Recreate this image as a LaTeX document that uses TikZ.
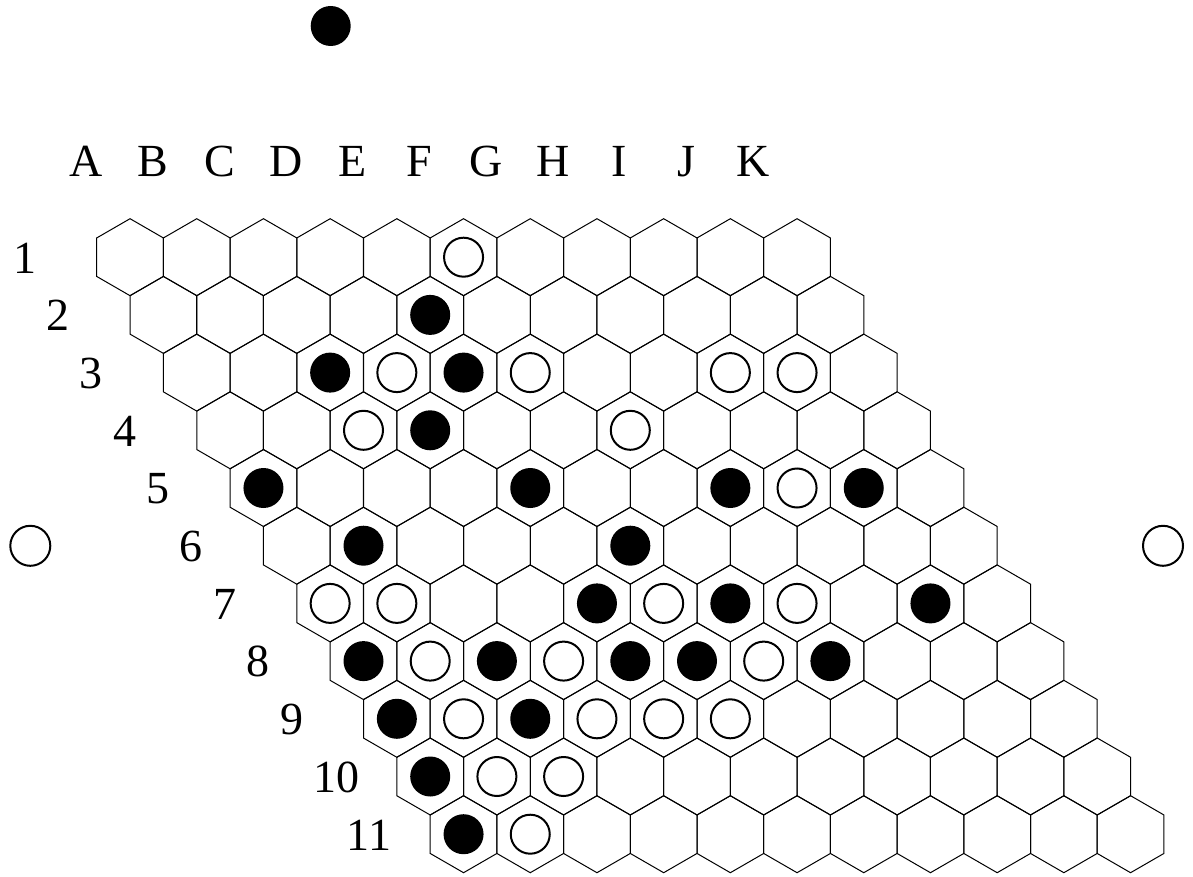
\documentclass[tikz,border=0pt]{standalone}
\usepackage{fontspec}
\setmainfont{Liberation Serif}

\tikzset{
  cell/.style={draw, line width=1pt, line join=miter},
  blackstone/.style={circle, fill=black, minimum size=40pt, inner sep=0pt},
  whitestone/.style={circle, draw=black, fill=white, line width=2pt,
    minimum size=39pt, inner sep=0pt},
  label/.style={font=\fontsize{46}{50}\selectfont, inner sep=0pt},
}

\begin{document}
\begin{tikzpicture}[x=1pt, y=-1pt]
  \useasboundingbox (0,0) rectangle (1193,877);

  % Column letters
  \foreach \c/\lab in {1/A, 2/B, 3/C, 4/D, 5/E, 6/F, 7/G, 8/H, 9/I, 10/J, 11/K} {
    \node[label, anchor=base] (col-\lab) at ({86+66.7*(\c-1)}, 176.7) {\lab};
  }

  % Row numbers
  \foreach \r in {1,...,11} {
    \node[label, anchor=base west] (row-\r) at ({13+33.35*(\r-1)}, {273+57.7*(\r-1)}) {\r};
  }

  % Board (pointy-top cells, r = 38.5)
  \foreach \r in {1,...,11} {
    \foreach \c in {1,...,11} {
      \pgfmathsetmacro{\cx}{130.05+66.7*(\c-1)+33.35*(\r-1)}
      \pgfmathsetmacro{\cy}{257.2+57.7*(\r-1)}
      \coordinate (h-\r-\c) at (\cx, \cy);
      \draw[cell, shift={(\cx,\cy)}] (30:38.5) -- (90:38.5) -- (150:38.5)
        -- (210:38.5) -- (270:38.5) -- (330:38.5) -- cycle;
    }
  }

  % Black stones (row/column)
  \foreach \r/\c in {2/5, 3/3, 3/5, 4/4, 5/1, 5/5, 5/8, 5/10, 6/2, 6/6,
                     7/5, 7/7, 7/10, 8/1, 8/3, 8/5, 8/6, 8/8, 9/1, 9/3,
                     10/1, 11/1} {
    \node[blackstone] (b-\r-\c) at (h-\r-\c) {};
  }

  % White stones (row/column)
  \foreach \r/\c in {1/6, 3/4, 3/6, 3/9, 3/10, 4/3, 4/7, 5/9, 7/1, 7/2,
                     7/6, 7/8, 8/2, 8/4, 8/7, 9/2, 9/4, 9/5, 9/6, 10/2,
                     10/3, 11/2} {
    \node[whitestone] (w-\r-\c) at (h-\r-\c) {};
  }

  % Side markers
  \node[blackstone] (top) at (330.7, 26) {};
  \node[whitestone, minimum size=40pt] (left) at (30.3, 545.8) {};
  \node[whitestone, minimum size=40pt] (right) at (1163, 545.8) {};
\end{tikzpicture}
\end{document}
